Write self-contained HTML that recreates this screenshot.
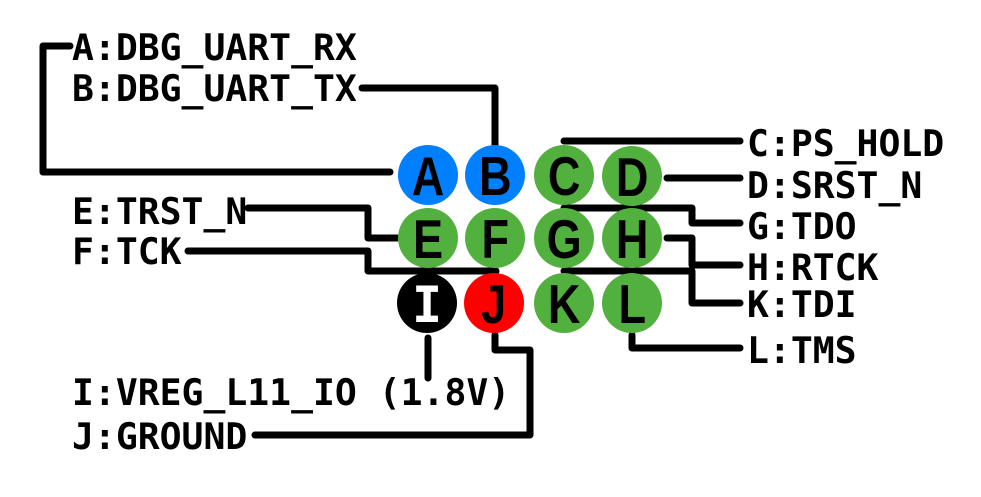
<!DOCTYPE html>
<html><head><meta charset="utf-8"><style>html,body{margin:0;padding:0;background:#fff}</style></head>
<body>
<svg width="981" height="492" viewBox="0 0 981 492" xmlns="http://www.w3.org/2000/svg">
<g fill="none" stroke="#000" stroke-width="7" stroke-linecap="round" stroke-linejoin="round">
<polyline points="390,172 43,172 43,46 70,46"/>
<polyline points="495,145 495,88 362,88"/>
<polyline points="564,141 740,141"/>
<polyline points="667,178 740,178"/>
<polyline points="397,238 368,238 368,208 248,208"/>
<polyline points="496,271 368,271 368,251 188,251"/>
<polyline points="564,208 692,208 692,223 740,223"/>
<polyline points="667,238 692,238 692,265 740,265"/>
<polyline points="564,271 692,271 692,303 740,303"/>
<polyline points="632,335 632,348 740,348"/>
<polyline points="428,338 428,378"/>
<polyline points="495,335 495,350 530,350 530,435 255,435"/>
</g>
<g>
<circle cx="428" cy="175" r="30" fill="#0080ff"/>
<circle cx="495" cy="175" r="30" fill="#0080ff"/>
<circle cx="564" cy="175" r="30" fill="#52b03e"/>
<circle cx="632" cy="176" r="30" fill="#52b03e"/>
<circle cx="428" cy="238" r="30" fill="#52b03e"/>
<circle cx="495" cy="238" r="30" fill="#52b03e"/>
<circle cx="564" cy="238" r="30" fill="#52b03e"/>
<circle cx="632" cy="238" r="30" fill="#52b03e"/>
<circle cx="427" cy="303" r="30" fill="#000"/>
<circle cx="494" cy="303" r="30" fill="#ff0000"/>
<circle cx="564" cy="303" r="30" fill="#52b03e"/>
<circle cx="632" cy="303" r="30" fill="#52b03e"/>
</g>
<g transform="scale(0.82,1)" font-family="'Liberation Sans',sans-serif" font-weight="bold" font-size="55" text-anchor="middle" fill="#000">
<text x="522" y="195">A</text><text x="604" y="195">B</text><text x="688" y="195">C</text><text x="771" y="196">D</text>
<text x="522" y="258">E</text><text x="604" y="258">F</text><text x="688" y="258">G</text><text x="771" y="258">H</text>
<text x="602" y="323">J</text><text x="688" y="323">K</text><text x="771" y="323">L</text>
</g>
<text x="427" y="322" text-anchor="middle" font-family="'DejaVu Sans Mono','Liberation Mono',monospace" font-weight="bold" font-size="50" fill="#fff">I</text>
<g font-family="'DejaVu Sans Mono','Liberation Mono',monospace" font-weight="bold" font-size="36.4" fill="#000">
<text x="72" y="60">A:DBG_UART_RX</text>
<text x="72" y="101">B:DBG_UART_TX</text>
<text x="747" y="156">C:PS_HOLD</text>
<text x="747" y="198">D:SRST_N</text>
<text x="747" y="239">G:TDO</text>
<text x="747" y="280">H:RTCK</text>
<text x="747" y="317">K:TDI</text>
<text x="747" y="363">L:TMS</text>
<text x="72" y="224">E:TRST_N</text>
<text x="72" y="264">F:TCK</text>
<text x="72" y="405">I:VREG_L11_IO (1.8V)</text>
<text x="72" y="449">J:GROUND</text>
</g>
</svg>
</body></html>
